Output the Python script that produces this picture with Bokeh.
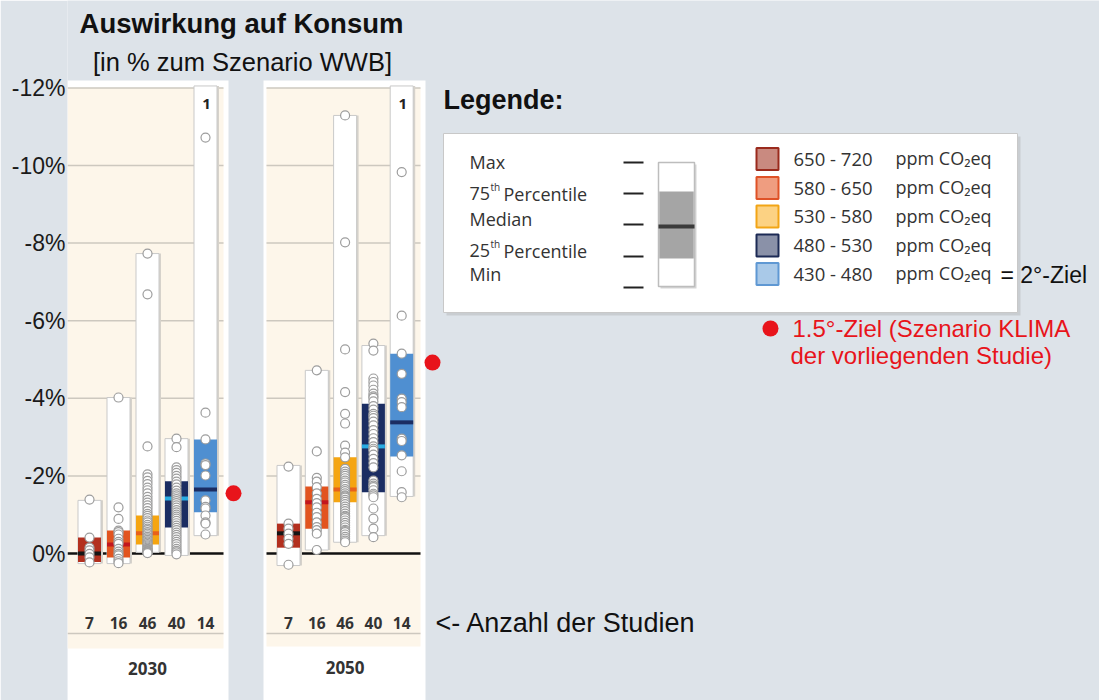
from bokeh.plotting import figure
from bokeh.models import Range1d, FixedTicker, PrintfTickFormatter, ColumnDataSource
from bokeh.core.properties import value
from bokeh.embed import file_html
from bokeh.resources import INLINE

# ---------------------------------------------------------------- data
years = ["2030", "2050"]
categories = ["650 - 720", "580 - 650", "530 - 580", "480 - 530", "430 - 480"]
study_counts = [7, 16, 46, 40, 14]
y_ticks = [-12, -10, -8, -6, -4, -2, 0]

# change of consumption in % vs. scenario WWB (negative = loss)
# box top (max loss), 75th pct, median, 25th pct, box bottom (min loss)
top_2030 = [-1.37, -4.02, -7.73, -2.96, -12.05]   # last box runs off the chart
q75_2030 = [-0.41, -0.59, -0.98, -1.86, -2.94]
med_2030 = [0.00, -0.23, -0.52, -1.42, -1.65]
q25_2030 = [0.22, 0.10, -0.23, -0.67, -1.06]
bot_2030 = [0.26, 0.26, -0.03, 0.05, -0.46]
beyond_2030 = [0, 0, 0, 0, 1]

top_2050 = [-2.27, -4.72, -11.29, -5.36, -12.05]
q75_2050 = [-0.77, -1.73, -2.48, -3.86, -5.15]
med_2050 = [-0.52, -1.32, -1.65, -2.76, -3.38]
q25_2050 = [-0.15, -0.64, -1.32, -1.58, -2.50]
bot_2050 = [0.31, -0.09, -0.29, -0.46, -1.47]
beyond_2050 = [0, 0, 0, 0, 1]

pts_2030 = [
    [-1.39, -0.41, -0.15, -0.08, 0.01, 0.10, 0.23],
    [-4.02, -1.19, -0.89, -0.59, -0.55, -0.49, -0.38, -0.30, -0.25, -0.12, -0.05, 0.01, 0.05, 0.14, 0.20, 0.25],
    [-7.73, -6.68, -2.76, -2.04, -1.96, -1.87, -1.79, -1.70, -1.63, -1.55, -1.46, -1.38, -1.31, -1.24,
     -1.17, -1.09, -1.02, -0.97, -0.91, -0.85, -0.80, -0.74, -0.69, -0.64, -0.60, -0.55, -0.51, -0.47,
     -0.43, -0.39, -0.35, -0.31, -0.28, -0.24, -0.21, -0.18, -0.15, -0.12, -0.10, -0.08, -0.06, -0.05,
     -0.04, -0.03, -0.02, -0.01],
    [-2.96, -2.74, -2.22, -2.15, -2.08, -2.00, -1.93, -1.85, -1.78, -1.70, -1.62, -1.55, -1.50, -1.45,
     -1.40, -1.35, -1.30, -1.24, -1.18, -1.12, -1.06, -1.00, -0.95, -0.90, -0.84, -0.78, -0.72, -0.66,
     -0.60, -0.54, -0.48, -0.42, -0.36, -0.30, -0.24, -0.18, -0.12, -0.07, -0.03, 0.02],
    [-10.72, -3.63, -2.94, -2.32, -2.28, -2.01, -1.37, -1.20, -1.16, -0.98, -0.80, -0.77, -0.49],
]
pts_2050 = [
    [-2.24, -0.77, -0.64, -0.51, -0.38, -0.25, 0.29],
    [-4.72, -2.63, -1.95, -1.85, -1.71, -1.55, -1.41, -1.30, -1.19, -1.05, -0.94, -0.80, -0.68, -0.60, -0.51, -0.09],
    [-11.29, -8.02, -5.26, -4.16, -3.60, -3.35, -2.78, -2.60, -2.48, -2.18, -2.11, -2.05, -2.00, -1.94,
     -1.88, -1.83, -1.77, -1.72, -1.66, -1.61, -1.55, -1.50, -1.47, -1.44, -1.38, -1.33, -1.27, -1.21,
     -1.15, -1.09, -1.03, -0.97, -0.95, -0.91, -0.85, -0.79, -0.73, -0.67, -0.61, -0.58, -0.55, -0.49,
     -0.43, -0.38, -0.33, -0.29],
    [-5.41, -5.23, -4.51, -4.42, -4.33, -4.22, -4.12, -4.05, -4.01, -3.92, -3.80, -3.71, -3.60, -3.55,
     -3.49, -3.40, -3.30, -3.18, -3.08, -2.97, -2.87, -2.76, -2.70, -2.65, -2.55, -2.44, -2.33, -2.22,
     -1.88, -1.80, -1.75, -1.71, -1.63, -1.54, -1.50, -1.45, -1.16, -0.90, -0.64, -0.42],
    [-9.83, -6.13, -5.15, -4.63, -3.99, -3.90, -3.77, -2.96, -2.90, -2.53, -2.12, -1.58, -1.45],
]
klima_2030 = -1.55   # 1.5 deg target (scenario KLIMA)
klima_2050 = -4.92

# ---------------------------------------------------------------- style
BG = "#dde3e9"
CREAM = "#fdf6ea"
GRID = "#cdc8bf"
IQR_COLORS = ["#b3301f", "#e2541f", "#f5a511", "#1b2d62", "#4f8fd1"]
MED_COLORS = ["#151515", "#c2161d", "#e8611b", "#29abe2", "#1b2d62"]
SW_FILL = ["#c98a80", "#ef9d80", "#fcd283", "#8a91a8", "#a9c9e8"]
SW_LINE = ["#9a2a1d", "#df5227", "#f2a516", "#1c2a55", "#5f98d3"]
RED = "#e8141b"
SANS = "Liberation Sans"
CHART = "Open Sans"

W, H, LEFT = 1099, 700, 67
PX = 38.8          # pixels per percentage point
ZERO_PY = 553      # canvas y of the 0 % line


def Y(py):
    return (py - ZERO_PY) / PX


p = figure(width=W, height=H, x_range=Range1d(LEFT, W),
           y_range=Range1d(Y(H), Y(0)),
           output_backend="svg", toolbar_location=None,
           x_axis_location=None, y_axis_location="left",
           min_border_left=LEFT, min_border_right=0, min_border_top=0, min_border_bottom=0,
           background_fill_color=BG, border_fill_color=BG, outline_line_color=None)
p.xgrid.visible = False
p.ygrid.visible = False
ax = p.yaxis[0]
ax.ticker = FixedTicker(ticks=y_ticks)
ax.formatter = PrintfTickFormatter(format="%d%%")
ax.axis_line_color = None
ax.major_tick_line_color = None
ax.minor_tick_line_color = None
ax.major_tick_in = 0
ax.major_tick_out = 0
ax.major_label_standoff = 2
ax.major_label_text_font = SANS
ax.major_label_text_font_size = "23px"
ax.major_label_text_color = "#1a1a1a"


def txt(x, py, s, size, color="#222222", font=SANS, style="normal", align="left"):
    p.text(x=[x], y=[Y(py)], text=[s], text_font=value(font), text_font_size=value(f"{size}px"),
           text_font_style=value(style), text_color=color, text_align=align, text_baseline="middle")


panels = [
    dict(year=years[0], x0=67, x1=228, cx0=67, cx1=223, first=89, step=29, klima_x=233,
         cream_bottom=648, tops=top_2030, q75=q75_2030, med=med_2030, q25=q25_2030, bot=bot_2030,
         pts=pts_2030, beyond=beyond_2030, klima=klima_2030, year_py=668),
    dict(year=years[1], x0=263, x1=425, cx0=266, cx1=420, first=288, step=28.3, klima_x=432,
         cream_bottom=646, tops=top_2050, q75=q75_2050, med=med_2050, q25=q25_2050, bot=bot_2050,
         pts=pts_2050, beyond=beyond_2050, klima=klima_2050, year_py=667),
]
BAR_W = 23

for pn in panels:
    # white card and cream plot area
    p.quad(left=[pn["x0"]], right=[pn["x1"]], top=[Y(80)], bottom=[Y(H)],
           fill_color="white", line_color=None)
    p.quad(left=[pn["cx0"]], right=[pn["cx1"]], top=[y_ticks[0]], bottom=[Y(pn["cream_bottom"])],
           fill_color=CREAM, line_color=None)
    grid = [t for t in y_ticks if t != 0]
    p.segment(x0=[pn["cx0"]] * len(grid), x1=[pn["cx1"]] * len(grid), y0=grid, y1=grid,
              line_color=GRID, line_width=1.5)
    p.segment(x0=[pn["cx0"]], x1=[pn["cx1"]], y0=[Y(633)], y1=[Y(633)], line_color=GRID, line_width=1.5)
    p.segment(x0=[pn["cx0"]], x1=[pn["cx1"]], y0=[0], y1=[0], line_color="#111111", line_width=2.5)

    xs = [pn["first"] + i * pn["step"] for i in range(len(categories))]
    src = ColumnDataSource(dict(x=xs, top=pn["tops"], bot=pn["bot"], q75=pn["q75"], q25=pn["q25"],
                                med=pn["med"], iqr=IQR_COLORS, medc=MED_COLORS))
    # shadow + white whisker box
    p.quad(left=[x - BAR_W / 2 + 2 for x in xs], right=[x + BAR_W / 2 + 2 for x in xs],
           top=pn["tops"], bottom=pn["bot"], fill_color="#d6d2cb", line_color=None)
    p.vbar(x="x", width=BAR_W, top="top", bottom="bot", source=src,
           fill_color="white", line_color="#c9c9c9", line_width=1)
    p.vbar(x="x", width=BAR_W, top="q75", bottom="q25", source=src,
           fill_color="iqr", line_color=None)
    p.rect(x="x", y="med", width=BAR_W, height=4, height_units="screen", source=src,
           fill_color="medc", line_color=None)
    for i, vals in enumerate(pn["pts"]):
        p.scatter(x=[xs[i]] * len(vals), y=vals, size=9, fill_color="white",
                  line_color="#9d9d9d", line_width=1.2)
        txt(xs[i], 622, str(study_counts[i]), 15.5, color="#333333", font=CHART, style="bold",
            align="center")
        if pn["beyond"][i]:
            txt(xs[i] + 1, 103, str(pn["beyond"][i]), 15, color="#222222", font=CHART, style="bold",
                align="center")
    txt((xs[0] + xs[-1]) / 2, pn["year_py"], pn["year"], 17, color="#333333", font=CHART,
        style="bold", align="center")
    p.scatter(x=[pn["klima_x"]], y=[pn["klima"]], size=16, fill_color=RED, line_color=None)

# ---------------------------------------------------------------- titles
txt(241, 23, "Auswirkung auf Konsum", 27.5, color="#111111", style="bold", align="center")
txt(242, 61, "[in % zum Szenario WWB]", 25.5, color="#111111", align="center")
txt(443, 99, "Legende:", 27, color="#111111", style="bold")
txt(435, 622, "<- Anzahl der Studien", 27, color="#111111")

# ---------------------------------------------------------------- legend box
p.quad(left=[446], right=[1020], top=[Y(136)], bottom=[Y(315)], fill_color="#c9cdd1", line_color=None)
p.quad(left=[443], right=[1017], top=[Y(133)], bottom=[Y(312)], fill_color="white",
       line_color="#c8c8c8", line_width=1)

stat_labels = [("Max", None, None, 161), ("75", "th", "Percentile", 193), ("Median", None, None, 218),
               ("25", "th", "Percentile", 250), ("Min", None, None, 273)]
for a, sup, rest, cy in stat_labels:
    txt(469, cy, a, 18, color="#333333", font=CHART)
    if sup:
        txt(490, cy - 7, sup, 10, color="#333333", font=CHART)
        txt(503, cy, rest, 18, color="#333333", font=CHART)
for dy in [162, 193, 224, 256, 287]:
    p.segment(x0=[623], x1=[643], y0=[Y(dy)], y1=[Y(dy)], line_color="#222222", line_width=2)
p.quad(left=[660], right=[696], top=[Y(164)], bottom=[Y(288)], fill_color="#d5d5d5", line_color=None)
p.quad(left=[658], right=[694], top=[Y(162)], bottom=[Y(286)], fill_color="white",
       line_color="#bdbdbd", line_width=1.5)
p.quad(left=[658.8], right=[693.2], top=[Y(191)], bottom=[Y(258)], fill_color="#a5a5a5", line_color=None)
p.rect(x=[676], y=[Y(226)], width=36, height=4, height_units="screen", fill_color="#3a3a3a",
       line_color=None)

row_py = [158.5, 187.5, 216, 245, 273.5]
p.rect(x=[767] * len(categories), y=[Y(r) for r in row_py], width=22, height=22, height_units="screen",
       fill_color=SW_FILL, line_color=SW_LINE, line_width=2)
for cat, r in zip(categories, row_py):
    txt(793, r - 1, cat, 18.5, color="#333333", font=CHART)
    txt(895, r - 1, "ppm CO₂eq", 18, color="#333333", font=CHART)
txt(1000, 274, "= 2°-Ziel", 23, color="#111111")

p.scatter(x=[770], y=[Y(328)], size=16, fill_color=RED, line_color=None)
txt(792, 328, "1.5°-Ziel (Szenario KLIMA", 24, color=RED)
txt(790, 355, "der vorliegenden Studie)", 24, color=RED)

open("out.html", "w").write(file_html(p, INLINE))
